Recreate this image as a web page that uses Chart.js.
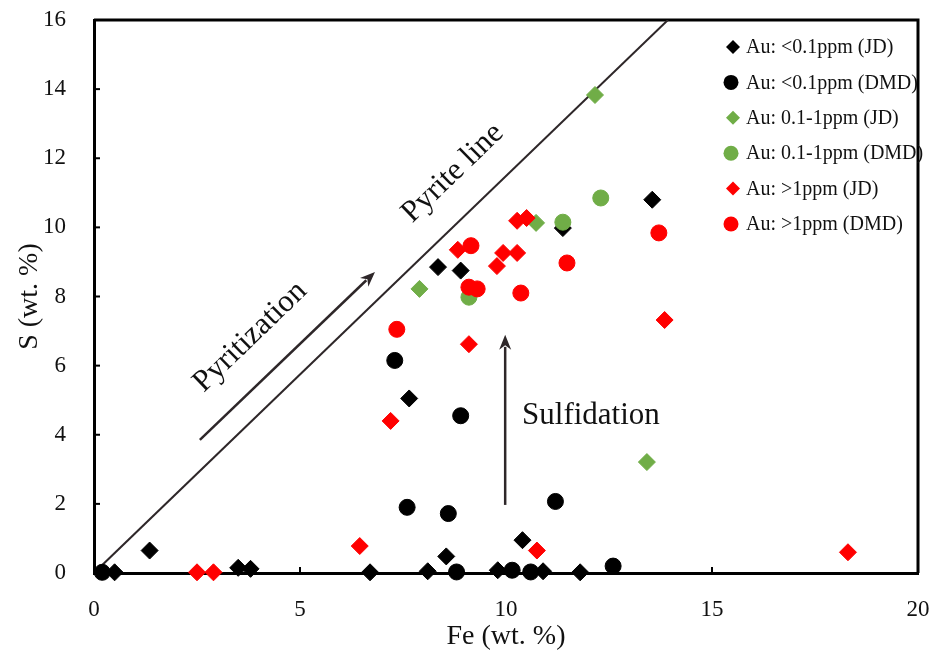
<!DOCTYPE html>
<html>
<head>
<meta charset="utf-8">
<script src="https://cdn.jsdelivr.net/npm/chart.js@4.4.1/dist/chart.umd.min.js"></script>
<style>
  html, body { margin: 0; padding: 0; background: #fff; }
  #wrap { width: 933px; height: 657px; }
</style>
</head>
<body>
<div id="wrap"><canvas id="feSChart" width="933" height="657"></canvas></div>
<script>
// Fe vs S (wt. %)
const blackJdFe = [0.5, 1.35, 3.5, 3.8, 6.7, 8.1, 8.55, 9.8, 10.4, 10.9, 11.8, 7.65, 8.35, 8.9, 11.38, 13.55];
const blackJdS  = [0.02, 0.65, 0.15, 0.12, 0.02, 0.05, 0.48, 0.08, 0.95, 0.05, 0.02, 5.05, 8.85, 8.75, 9.98, 10.8];

const blackDmdFe = [0.2, 7.3, 8.9, 7.6, 8.6, 11.2, 12.6, 8.8, 10.15, 10.6];
const blackDmdS  = [0.02, 6.15, 4.55, 1.9, 1.72, 2.07, 0.2, 0.03, 0.08, 0.03];

const greenJdFe = [7.9, 10.73, 12.16, 13.42];
const greenJdS  = [8.22, 10.13, 13.83, 3.21];

const greenDmdFe = [9.1, 11.38, 12.3];
const greenDmdS  = [7.98, 10.15, 10.85];

const redJdFe = [2.5, 2.9, 6.45, 7.2, 9.1, 10.75, 13.85, 18.3, 8.83, 9.78, 9.93, 10.27, 10.27, 10.5];
const redJdS  = [0.02, 0.02, 0.78, 4.4, 6.62, 0.65, 7.32, 0.6, 9.35, 8.88, 9.26, 9.26, 10.19, 10.27];

const redDmdFe = [7.35, 9.15, 9.1, 9.3, 10.36, 11.48, 13.71];
const redDmdS  = [7.05, 9.47, 8.27, 8.22, 8.1, 8.97, 9.84];

// pyrite (FeS2) line and the annotations, in data units
const pyriteFe = [0, 13.93];
const pyriteS = [0, 16];
const pyritizationArrow = [[2.57, 3.85], [6.82, 8.71]];
const sulfidationArrow = [[9.98, 1.97], [9.98, 6.89]];
const notes = [
  { text: 'Pyrite line', fe: 8.71, s: 11.57, tilt: true },
  { text: 'Pyritization', fe: 3.79, s: 6.83, tilt: true },
  { text: 'Sulfidation', fe: 10.39, s: 4.54, tilt: false }
];

const legendLabels = [
  'Au: <0.1ppm (JD)', 'Au: <0.1ppm (DMD)',
  'Au: 0.1-1ppm (JD)', 'Au: 0.1-1ppm (DMD)',
  'Au: >1ppm (JD)', 'Au: >1ppm (DMD)'
];

const black = '#000000';
const green = '#70AD47';
const red = '#FF0000';
const ink = '#2e2729';
const serif = '"Liberation Serif", "Times New Roman", serif';

const pts = (fe, s) => fe.map((v, i) => ({ x: v, y: s[i] }));

function series(label, fe, s, color, style, order) {
  return {
    label: label,
    data: pts(fe, s),
    backgroundColor: color,
    borderColor: color,
    pointStyle: style,
    pointRadius: style === 'circle' ? 8 : 8.5,
    pointBorderWidth: 1,
    clip: false,
    order: order
  };
}

const datasets = [
  series(legendLabels[0], blackJdFe, blackJdS, black, 'rectRot', 6),
  series(legendLabels[1], blackDmdFe, blackDmdS, black, 'circle', 5),
  series(legendLabels[2], greenJdFe, greenJdS, green, 'rectRot', 4),
  series(legendLabels[3], greenDmdFe, greenDmdS, green, 'circle', 3),
  series(legendLabels[4], redJdFe, redJdS, red, 'rectRot', 1),
  series(legendLabels[5], redDmdFe, redDmdS, red, 'circle', 2),
  {
    type: 'line',
    label: 'Pyrite line',
    data: pts(pyriteFe, pyriteS),
    borderColor: ink,
    borderWidth: 2,
    pointRadius: 0,
    showLine: true,
    order: 10
  }
];

function arrow(ctx, x0, y0, x1, y1) {
  const ang = Math.atan2(y1 - y0, x1 - x0);
  const len = 15, half = 6;
  ctx.beginPath();
  ctx.moveTo(x0, y0);
  ctx.lineTo(x1 - Math.cos(ang) * len * 0.8, y1 - Math.sin(ang) * len * 0.8);
  ctx.stroke();
  ctx.beginPath();
  ctx.moveTo(x1, y1);
  ctx.lineTo(x1 - Math.cos(ang) * len - Math.sin(ang) * half, y1 - Math.sin(ang) * len + Math.cos(ang) * half);
  ctx.lineTo(x1 - Math.cos(ang) * len * 0.7, y1 - Math.sin(ang) * len * 0.7);
  ctx.lineTo(x1 - Math.cos(ang) * len + Math.sin(ang) * half, y1 - Math.sin(ang) * len - Math.cos(ang) * half);
  ctx.closePath();
  ctx.fill();
}

const extras = {
  id: 'extras',
  beforeDatasetsDraw(chart) {
    const { ctx, chartArea: a, scales: { x, y } } = chart;
    ctx.save();
    ctx.strokeStyle = '#000';
    ctx.lineWidth = 2;
    // inward tick marks
    x.ticks.forEach(t => {
      if (t.value <= x.min || t.value >= x.max) return;
      const px = x.getPixelForValue(t.value);
      ctx.beginPath(); ctx.moveTo(px, a.bottom); ctx.lineTo(px, a.bottom - 6); ctx.stroke();
    });
    y.ticks.forEach(t => {
      if (t.value <= y.min || t.value >= y.max) return;
      const py = y.getPixelForValue(t.value);
      ctx.beginPath(); ctx.moveTo(a.left, py); ctx.lineTo(a.left + 6, py); ctx.stroke();
    });
    // top and right edges of the frame
    ctx.lineWidth = 3;
    ctx.beginPath();
    ctx.moveTo(a.left, a.top); ctx.lineTo(a.right, a.top); ctx.lineTo(a.right, a.bottom);
    ctx.stroke();

    // arrows
    ctx.strokeStyle = ink;
    ctx.fillStyle = ink;
    ctx.lineWidth = 2.5;
    [pyritizationArrow, sulfidationArrow].forEach(ar => {
      arrow(ctx, x.getPixelForValue(ar[0][0]), y.getPixelForValue(ar[0][1]),
        x.getPixelForValue(ar[1][0]), y.getPixelForValue(ar[1][1]));
    });

    // text notes, tilted ones follow the pyrite line
    const tilt = Math.atan2(y.getPixelForValue(pyriteS[1]) - y.getPixelForValue(pyriteS[0]),
      x.getPixelForValue(pyriteFe[1]) - x.getPixelForValue(pyriteFe[0]));
    ctx.fillStyle = '#111';
    ctx.font = '31px ' + serif;
    ctx.textBaseline = 'middle';
    notes.forEach(n => {
      ctx.save();
      ctx.translate(x.getPixelForValue(n.fe), y.getPixelForValue(n.s));
      if (n.tilt) {
        ctx.rotate(tilt);
        ctx.textAlign = 'center';
      } else {
        ctx.textAlign = 'left';
      }
      ctx.fillText(n.text, 0, 0);
      ctx.restore();
    });
    ctx.restore();
  },
  afterDraw(chart) {
    const { ctx, chartArea: a } = chart;
    ctx.save();
    ctx.font = '20px ' + serif;
    ctx.textBaseline = 'middle';
    ctx.textAlign = 'left';
    datasets.slice(0, 6).forEach((ds, i) => {
      const cy = a.top + 27 + i * 35.4;
      const cx = a.right - 185;
      ctx.fillStyle = ds.backgroundColor;
      ctx.beginPath();
      if (ds.pointStyle === 'circle') {
        ctx.arc(cx - 2, cy, 7.5, 0, Math.PI * 2);
      } else {
        const r = 7;
        ctx.moveTo(cx, cy - r); ctx.lineTo(cx + r, cy); ctx.lineTo(cx, cy + r); ctx.lineTo(cx - r, cy);
        ctx.closePath();
      }
      ctx.fill();
      ctx.fillStyle = '#111';
      ctx.fillText(legendLabels[i], a.right - 172, cy + 1);
    });
    ctx.restore();
  }
};

new Chart(document.getElementById('feSChart'), {
  type: 'scatter',
  data: { datasets: datasets },
  plugins: [extras],
  options: {
    responsive: false,
    devicePixelRatio: 1,
    animation: false,
    events: [],
    layout: { padding: { top: 20, right: 15, left: 0, bottom: 0 } },
    plugins: {
      legend: { display: false },
      tooltip: { enabled: false }
    },
    scales: {
      x: {
        type: 'linear',
        min: 0,
        max: 20,
        ticks: { stepSize: 5, color: '#111', font: { family: serif, size: 23 }, padding: 15 },
        grid: { display: false },
        border: { display: true, color: '#000', width: 3 },
        title: { display: true, text: 'Fe (wt. %)', color: '#111', font: { family: serif, size: 28 }, padding: { top: 0, bottom: 4 } },
        afterFit: s => { s.height = 84; s.paddingLeft = 0; s.paddingRight = 0; }
      },
      y: {
        type: 'linear',
        min: 0,
        max: 16,
        ticks: { stepSize: 2, color: '#111', font: { family: serif, size: 23 }, padding: 20 },
        grid: { display: false },
        border: { display: true, color: '#000', width: 3 },
        title: { display: true, text: 'S (wt. %)', color: '#111', font: { family: serif, size: 28 }, padding: { top: 13, bottom: 0 } },
        afterFit: s => { s.width = 94; s.paddingTop = 0; s.paddingBottom = 0; }
      }
    }
  }
});
</script>
</body>
</html>
